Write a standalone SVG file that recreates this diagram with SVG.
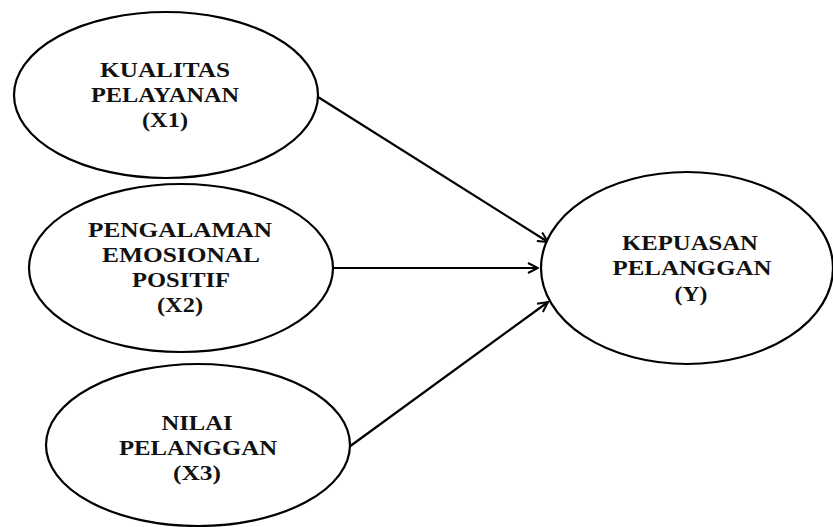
<svg xmlns="http://www.w3.org/2000/svg" width="833" height="527" viewBox="0 0 833 527">
<style>
.node ellipse{fill:#fff;stroke:#000;stroke-width:2.2}
.node text{font-family:"Liberation Serif","Times New Roman",serif;font-weight:bold;font-size:21px;fill:#111;text-anchor:middle}
.edge{stroke:#000;stroke-width:2.2;fill:none;marker-end:url(#arr)}
</style>
<defs>
<marker id="arr" viewBox="0 0 12 12" refX="11" refY="6" markerWidth="12" markerHeight="12" markerUnits="userSpaceOnUse" orient="auto">
<path d="M1,1 L11,6 L1,11" fill="none" stroke="#000" stroke-width="2"/>
</marker>
</defs>
<rect width="833" height="527" fill="#fff"/>
<g id="connectors">
<line class="edge" x1="318" y1="97" x2="548" y2="242"/>
<line class="edge" x1="333" y1="268" x2="538" y2="268"/>
<line class="edge" x1="349" y1="447" x2="548" y2="302"/>
</g>
<g id="x1" class="node">
<ellipse cx="166" cy="95" rx="152" ry="83"/>
<text transform="translate(165,77) scale(1.16,1)" textLength="112" lengthAdjust="spacingAndGlyphs">KUALITAS</text>
<text transform="translate(165,102) scale(1.16,1)" textLength="127.6" lengthAdjust="spacingAndGlyphs">PELAYANAN</text>
<text transform="translate(165,127) scale(1.16,1)" textLength="39.7" lengthAdjust="spacingAndGlyphs">(X1)</text>
</g>
<g id="x2" class="node">
<ellipse cx="181" cy="268" rx="152" ry="84"/>
<text transform="translate(180,237) scale(1.16,1)" textLength="158.6" lengthAdjust="spacingAndGlyphs">PENGALAMAN</text>
<text transform="translate(181,262) scale(1.16,1)" textLength="136.2" lengthAdjust="spacingAndGlyphs">EMOSIONAL</text>
<text transform="translate(181,287) scale(1.16,1)" textLength="84.5" lengthAdjust="spacingAndGlyphs">POSITIF</text>
<text transform="translate(180,312) scale(1.16,1)" textLength="39.7" lengthAdjust="spacingAndGlyphs">(X2)</text>
</g>
<g id="x3" class="node">
<ellipse cx="198" cy="445" rx="152" ry="81"/>
<text transform="translate(197,430) scale(1.16,1)" textLength="61.2" lengthAdjust="spacingAndGlyphs">NILAI</text>
<text transform="translate(198,455) scale(1.16,1)" textLength="136.2" lengthAdjust="spacingAndGlyphs">PELANGGAN</text>
<text transform="translate(197,480) scale(1.16,1)" textLength="41.4" lengthAdjust="spacingAndGlyphs">(X3)</text>
</g>
<g id="y" class="node">
<ellipse cx="687" cy="268" rx="146" ry="96"/>
<text transform="translate(690,250) scale(1.16,1)" textLength="117.2" lengthAdjust="spacingAndGlyphs">KEPUASAN</text>
<text transform="translate(692,275) scale(1.16,1)" textLength="137" lengthAdjust="spacingAndGlyphs">PELANGGAN</text>
<text transform="translate(691,301) scale(1.16,1)" textLength="28.4" lengthAdjust="spacingAndGlyphs">(Y)</text>
</g>
</svg>
